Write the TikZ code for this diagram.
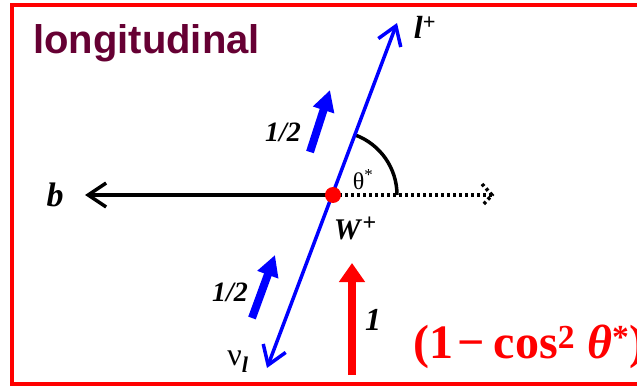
\documentclass[tikz,border=0pt]{standalone}
\usepackage{fontspec}
\setmainfont{Liberation Serif}
\newfontfamily\titlefont{Liberation Sans}
\usepackage{xcolor}
\definecolor{titlemaroon}{RGB}{102,0,51}
\definecolor{spinblue}{RGB}{0,0,255}
\definecolor{spinred}{RGB}{255,0,0}
\usetikzlibrary{arrows.meta}

\begin{document}
\begin{tikzpicture}[
  x=1pt, y=1pt,
  ttl/.style={font=\titlefont\fontsize{40}{40}\selectfont\bfseries, text=titlemaroon,
              inner sep=0pt, anchor=base west},
  lbl/.style={font=\fontsize{28}{28}\selectfont\bfseries\itshape, inner sep=0pt},
  greek/.style={font=\fontsize{32}{32}\selectfont, inner sep=0pt},
  axisline/.style={line width=3.5pt, -{Straight Barb[length=18pt, width=24pt]}},
  decayline/.style={line width=3.5pt, draw=spinblue,
              {Straight Barb[length=18pt, width=24pt]}-{Straight Barb[length=18pt, width=24pt]}},
  dotline/.style={line width=3.5pt, dash pattern=on 3pt off 3pt},
  spinarr/.style={line width=8pt, draw=spinblue, -{Triangle[length=21pt, width=21pt]}},
  wspin/.style={line width=8pt, draw=spinred, -{Triangle[length=19pt, width=25pt]}}
]
\useasboundingbox (0,0) rectangle (637,386);
\clip (0,0) rectangle (637,386);
\draw[spinred, line width=4pt] (12,2) rectangle (700,381);

\node[ttl] (head) at (33,332) {longitudinal};

\coordinate (W) at (333,191);
\coordinate (lp) at (397,363);
\coordinate (nu) at (267,18);
\coordinate (bt) at (85,191);
\coordinate (dt) at (492,191);
\coordinate (u1) at (310,234);
\coordinate (u2) at (330,296);
\coordinate (d1) at (252,68);
\coordinate (d2) at (275,131);
\coordinate (r1) at (352,11);
\coordinate (r2) at (352,123);

\draw[axisline] (W) -- (bt);
\draw[dotline] (W) -- (dt);
\draw[dotline] ([xshift=-10pt, yshift=11pt]dt) -- (dt) -- ([xshift=-10pt, yshift=-11pt]dt);
\draw[line width=3.5pt] ([shift={(0:64)}]W) arc[start angle=0, end angle=69.5, radius=64];
\draw[decayline] (nu) -- (lp);

\draw[spinarr] (u1) -- (u2);
\draw[spinarr] (d1) -- (d2);
\draw[wspin] (r1) -- (r2);

\node[circle, fill=spinred, minimum size=16pt, inner sep=0pt] (dot) at (W) {};

\node[lbl, font=\fontsize{34}{34}\selectfont\bfseries\itshape] (b) at (55,191) {b};
\node[lbl, font=\fontsize{32}{32}\selectfont\bfseries\itshape] (lplus) at (425,359) {l\textsuperscript{\upshape +}};
\node[lbl, font=\fontsize{30}{30}\selectfont\bfseries\itshape] (wlab) at (355,158) {W\kern2pt\raisebox{9pt}{\fontsize{24}{24}\selectfont\upshape +}};
\node[greek] (nulab) at (238,24) {ν\textsubscript{\bfseries\itshape l}};
\node[greek, font=\fontsize{24}{24}\selectfont] (theta) at (363,206) {θ\textsuperscript{*}};
\node[lbl] (half1) at (283,254) {1/2};
\node[lbl] (half2) at (230,94) {1/2};
\node[lbl, font=\fontsize{32}{32}\selectfont\bfseries\itshape] (one) at (373,66) {1};

% angular distribution of the longitudinal W
\node[inner sep=0pt, anchor=base west, text=spinred, font=\fontsize{48}{48}\selectfont\bfseries]
  (dist) at (413,28) {(1\hspace{0.08em}−\hspace{0.2em}cos\textsuperscript{2} \textit{θ}\textsuperscript{*})};
\end{tikzpicture}
\end{document}
